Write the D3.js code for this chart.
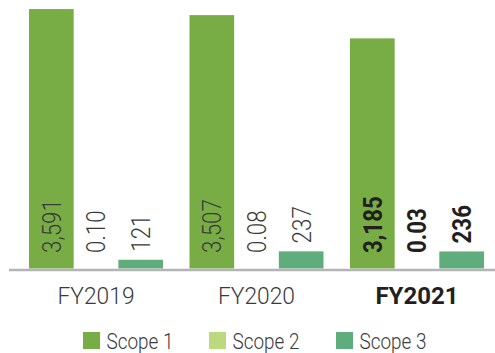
<!DOCTYPE html>
<html>
<head>
<meta charset="utf-8">
<script src="https://cdn.jsdelivr.net/npm/d3@7"></script>
<style>
  html, body { margin: 0; padding: 0; background: #fff; }
  svg { display: block; }
  text { font-family: Roboto, "Open Sans", sans-serif; }
</style>
</head>
<body>
<svg id="chart" width="495" height="353"></svg>
<script>
// Emissions by scope, per financial year
const years = ["FY2019", "FY2020", "FY2021"];
const series = ["Scope 1", "Scope 2", "Scope 3"];
const scope1 = [3591, 3507, 3185];
const scope2 = [0.10, 0.08, 0.03];
const scope3 = [121, 237, 236];
const valueLabels = [
  ["3,591", "0.10", "121"],
  ["3,507", "0.08", "237"],
  ["3,185", "0.03", "236"]
];
const highlightYear = "FY2021";
const colors = ["#78ad45", "#bcd97e", "#5fad7c"];

const rows = years.map((y, i) => ({
  year: y,
  values: [scope1[i], scope2[i], scope3[i]],
  labels: valueLabels[i]
}));

const svg = d3.select("#chart");
const baseY = 268.5;
const labelFloor = baseY - 15.5;

const x0 = d3.scaleBand().domain(years).range([29, 484]).paddingInner(0.165).paddingOuter(0);
const x1 = d3.scaleBand().domain(series).range([0, x0.bandwidth()]).padding(0);
const y = d3.scaleLinear().domain([0, 3600]).range([baseY, 8.4]);
const color = d3.scaleOrdinal().domain(series).range(colors);

const groups = svg.append("g").selectAll("g")
  .data(rows).join("g")
  .attr("transform", d => `translate(${x0(d.year)},0)`);

groups.selectAll("rect")
  .data(d => d.values.map((v, i) => ({ key: series[i], value: v })))
  .join("rect")
  .attr("x", d => x1(d.key))
  .attr("width", x1.bandwidth())
  .attr("y", d => y(d.value))
  .attr("height", d => baseY - y(d.value))
  .attr("fill", d => color(d.key));

// Rotated value labels: inside the tall bars, above the short ones
groups.selectAll("text.val")
  .data(d => d.labels.map((t, i) => ({
    key: series[i], text: t, value: d.values[i], bold: d.year === highlightYear, inside: i === 0
  })))
  .join("text")
  .attr("class", "val")
  .attr("transform", d => {
    const ly = d.inside ? labelFloor : Math.min(labelFloor, y(d.value) - 8);
    return `translate(${x1(d.key) + x1.bandwidth() / 2},${ly}) rotate(-90) scale(0.86,1)`;
  })
  .attr("dy", "0.36em")
  .attr("font-size", 26)
  .attr("font-weight", d => d.bold ? 700 : 300)
  .attr("fill", d => d.bold ? "#231f20" : "#3a3a3a")
  .text(d => d.text);

// Baseline
svg.append("line")
  .attr("x1", 9).attr("x2", 495)
  .attr("y1", 270).attr("y2", 270)
  .attr("stroke", "#b4b4b6")
  .attr("stroke-width", 2.5);

// Category axis
const xAxis = d3.axisBottom(x0).tickSize(0).tickPadding(0);
const axisG = svg.append("g").attr("transform", "translate(0,270)").call(xAxis);
axisG.select(".domain").remove();
axisG.selectAll(".tick text")
  .attr("y", 0).attr("dy", 0)
  .attr("transform", d => `translate(0,34) scale(${d === highlightYear ? 1 : 0.95},1)`)
  .attr("font-family", "Roboto, sans-serif")
  .attr("font-size", 24)
  .attr("font-weight", d => d === highlightYear ? 700 : 300)
  .attr("fill", d => d === highlightYear ? "#231f20" : "#3a3a3a");

// Legend
const legendX = [83, 209, 336];
const legend = svg.append("g").selectAll("g")
  .data(series).join("g")
  .attr("transform", (d, i) => `translate(${legendX[i]},332)`);
legend.append("rect")
  .attr("width", 17).attr("height", 17)
  .attr("fill", d => color(d));
legend.append("text")
  .attr("transform", "translate(23.5,17) scale(0.86,1)")
  .attr("font-size", 22)
  .attr("font-weight", 300)
  .attr("fill", "#3a3a3a")
  .text(d => d);
</script>
</body>
</html>
